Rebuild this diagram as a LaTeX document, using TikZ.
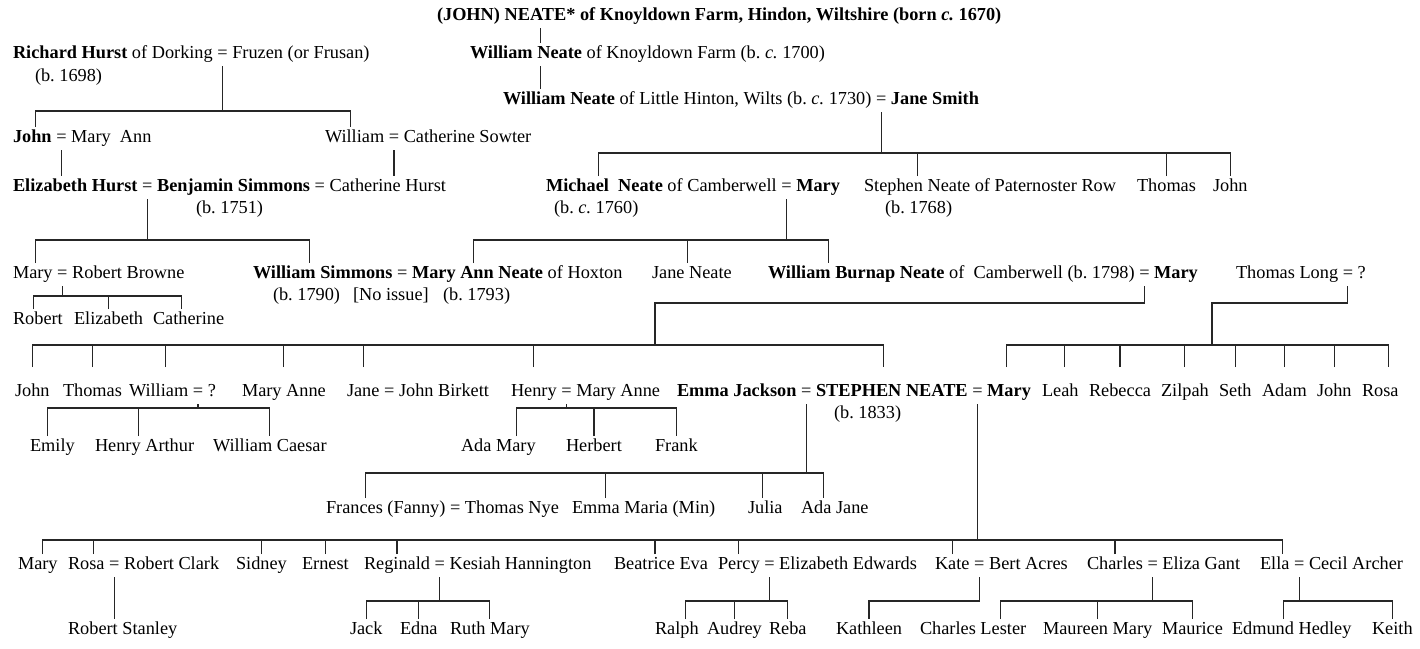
\documentclass[tikz,border=0pt]{standalone}
\usepackage{fontspec}
\setmainfont{Liberation Serif}
\newcommand\tfont{\fontsize{18.3}{22}\selectfont}
\newcommand\kid[3][0pt]{\draw[ln] ([xshift=#1]#2.north) -- ([xshift=#1]#2.north |- #3);}
\tikzset{
  t/.style={inner sep=0pt, outer sep=0pt, anchor=base west, text height=15pt, text depth=8pt, font=\tfont},
  tt/.style={t, text height=29pt},
  nx/.style={at={(#1.base east)}, xshift=4.6pt},
  ln/.style={line width=1.1pt, draw=black!85},
}
\begin{document}
\frenchspacing
\begin{tikzpicture}[x=1pt,y=1pt]
\fill[white] (0,0) rectangle (1420,-648);
\useasboundingbox (0,0) rectangle (1420,-648);
% bus levels
\coordinate (bA) at (0,-111);
\coordinate (bB) at (0,-153);
\coordinate (bC) at (0,-240);
\coordinate (bD) at (0,-296);
\coordinate (jog1) at (655,-303);
\coordinate (jog2) at (1212,-303);
\coordinate (bE) at (0,-345);
\coordinate (bF) at (0,-408);
\coordinate (bG) at (0,-473);
\coordinate (bH) at (0,-540);
\coordinate (bI) at (0,-601);
% Row 1
\node[t] (j1) at (437,-20) {\bfseries (JOHN) NEATE*};
\node[t,nx=j1] (j2) {\bfseries of Knoyldown Farm, Hindon, Wiltshire (born \textit{c.} 1670)};
% Row 2
\node[t] (rh1) at (13,-58) {\bfseries Richard Hurst};
\node[t,nx=rh1] (rh2) {of Dorking};
\node[t,nx=rh2] (rheq) {=};
\node[t,nx=rheq] (rh3) {Fruzen (or Frusan)};
\node[t] (rhb) at (35,-81) {(b. 1698)};
\node[t] (wk1) at (470,-58) {\bfseries William};
\node[t,nx=wk1] (wk2) {\bfseries Neate};
\node[t,nx=wk2] (wk3) {of Knoyldown Farm (b. \textit{c.} 1700)};
% Row 3
\node[t] (lh1) at (503,-104) {\bfseries William Neate};
\node[t,nx=lh1] (lh2) {of Little Hinton, Wilts (b. \textit{c.} 1730)};
\node[t,nx=lh2] (lheq) {=};
\node[t,nx=lheq] (lh3) {\bfseries Jane Smith};
% Row 4
\node[t] (hj) at (13,-142) {\bfseries John};
\node[t,nx=hj] (hjeq) {=};
\node[t,nx=hjeq] (hj2) {Mary\ \ Ann};
\node[t] (hw) at (325,-142) {William};
\node[t,nx=hw] (hweq) {=};
\node[t,nx=hweq] (hw2) {Catherine Sowter};
% Row 5
\node[t] (el) at (13,-191) {\bfseries Elizabeth Hurst};
\node[t,nx=el] (eleq) {=};
\node[t,nx=eleq] (bs) {\bfseries Benjamin Simmons};
\node[t,nx=bs] (bseq) {=};
\node[t,nx=bseq] (ch) {Catherine Hurst};
\node[t] (bsb) at (196,-213) {(b. 1751)};
\node[t] (mn) at (546,-191) {\bfseries Michael\ \ Neate};
\node[t,nx=mn] (mn2) {of Camberwell};
\node[t,nx=mn2] (mneq) {=};
\node[t,nx=mneq] (mn3) {\bfseries Mary};
\node[t] (mnb) at (554,-213) {(b. \textit{c.} 1760)};
\node[t] (sn) at (864,-191) {Stephen Neate};
\node[t,nx=sn] (sn2) {of Paternoster Row};
\node[t] (snb) at (885,-213) {(b. 1768)};
\node[t] (th) at (1137,-191) {Thomas};
\node[t] (jo) at (1213,-191) {John};
% Row 6
\node[t] (mb) at (13,-278) {Mary};
\node[t,nx=mb] (mbeq) {=};
\node[t,nx=mbeq] (mb2) {Robert Browne};
\node[t] (ws) at (253,-278) {\bfseries William Simmons};
\node[t,nx=ws] (wseq) {=};
\node[t,nx=wseq] (ma) {\bfseries Mary Ann Neate};
\node[t,nx=ma] (ma2) {of Hoxton};
\node[t] (jn) at (652,-278) {Jane Neate};
\node[t] (wb) at (768,-278) {\bfseries William Burnap Neate};
\node[t,nx=wb] (wb2) {of\ \ Camberwell (b. 1798)};
\node[t,nx=wb2] (wbeq) {=};
\node[t,nx=wbeq] (wb3) {\bfseries Mary};
\node[t] (tl) at (1236,-278) {Thomas Long};
\node[t,nx=tl] (tleq) {=};
\node[t,nx=tleq] (tl2) {?};
\node[t] (wsb) at (273,-300) {(b. 1790)};
\node[t] (noi) at (353,-300) {[No issue]};
\node[t] (mab) at (443,-300) {(b. 1793)};
% Row 7
\node[t] (rb) at (13,-324) {Robert};
\node[t] (eb) at (74,-324) {Elizabeth};
\node[t] (cb) at (153,-324) {Catherine};
% Row 8
\node[tt] (k1) at (15,-396) {John};
\node[tt] (k2) at (63,-396) {Thomas};
\node[tt] (k3) at (129,-396) {William};
\node[t,nx=k3] (k3eq) {=};
\node[t,nx=k3eq] (k3b) {?};
\node[tt] (k4) at (242,-396) {Mary Anne};
\node[tt] (k5) at (347,-396) {Jane};
\node[t,nx=k5] (k5eq) {=};
\node[t,nx=k5eq] (k5b) {John Birkett};
\node[tt] (k6) at (511,-396) {Henry};
\node[t,nx=k6] (k6eq) {=};
\node[t,nx=k6eq] (k6b) {Mary Anne};
\node[t] (k7) at (677,-396) {\bfseries Emma Jackson};
\node[t,nx=k7] (k7eq) {=};
\node[tt,nx=k7eq] (k7b) {\bfseries STEPHEN NEATE};
\node[t,nx=k7b] (k7eq2) {=};
\node[tt,nx=k7eq2] (k7c) {\bfseries Mary};
\node[t] (k7d) at (834,-418) {(b. 1833)};
\node[tt] (l1) at (1042,-396) {Leah};
\node[tt] (l2) at (1089,-396) {Rebecca};
\node[tt] (l3) at (1161,-396) {Zilpah};
\node[tt] (l4) at (1219,-396) {Seth};
\node[tt] (l5) at (1262,-396) {Adam};
\node[tt] (l6) at (1317,-396) {John};
\node[tt] (l7) at (1362,-396) {Rosa};
% Row 9
\node[t] (e1) at (30,-451) {Emily};
\node[t] (e2) at (95,-451) {Henry Arthur};
\node[t] (e3) at (213,-451) {William Caesar};
\node[t] (h1) at (461,-451) {Ada Mary};
\node[t] (h2) at (566,-451) {Herbert};
\node[t] (h3) at (655,-451) {Frank};
% Row 10
\node[t] (fr) at (326,-513) {Frances (Fanny)};
\node[t,nx=fr] (freq) {=};
\node[t,nx=freq] (fr2) {Thomas Nye};
\node[t] (em) at (572,-513) {Emma Maria (Min)};
\node[t] (ju) at (748,-513) {Julia};
\node[t] (aj) at (801,-513) {Ada Jane};
% Row 11
\node[t] (s1) at (18,-569) {Mary};
\node[t] (s2) at (68,-569) {Rosa};
\node[t,nx=s2] (s2eq) {=};
\node[t,nx=s2eq] (s2b) {Robert Clark};
\node[t] (s3) at (236,-569) {Sidney};
\node[t] (s4) at (302,-569) {Ernest};
\node[t] (s5) at (364,-569) {Reginald};
\node[t,nx=s5] (s5eq) {=};
\node[t,nx=s5eq] (s5b) {Kesiah Hannington};
\node[t] (s6) at (614,-569) {Beatrice Eva};
\node[t] (s7) at (718,-569) {Percy};
\node[t,nx=s7] (s7eq) {=};
\node[t,nx=s7eq] (s7b) {Elizabeth Edwards};
\node[t] (s8) at (935,-569) {Kate};
\node[t,nx=s8] (s8eq) {=};
\node[t,nx=s8eq] (s8b) {Bert Acres};
\node[t] (s9) at (1087,-569) {Charles};
\node[t,nx=s9] (s9eq) {=};
\node[t,nx=s9eq] (s9b) {Eliza Gant};
\node[t] (s10) at (1260,-569) {Ella};
\node[t,nx=s10] (s10eq) {=};
\node[t,nx=s10eq] (s10b) {Cecil Archer};
% Row 12
\node[t] (rs) at (68,-634) {Robert Stanley};
\node[t] (g1) at (350,-634) {Jack};
\node[t] (g2) at (400,-634) {Edna};
\node[t] (g3) at (450,-634) {Ruth Mary};
\node[t] (p1) at (655,-634) {Ralph};
\node[t] (p2) at (707,-634) {Audrey};
\node[t] (p3) at (769,-634) {Reba};
\node[t] (kt) at (836,-634) {Kathleen};
\node[t] (c1) at (920,-634) {Charles Lester};
\node[t] (c2) at (1043,-634) {Maureen Mary};
\node[t] (c3) at (1162,-634) {Maurice};
\node[t] (d1) at (1232,-634) {Edmund Hedley};
\node[t] (d2) at (1372,-634) {Keith};
% ---- connectors ----
\draw[ln] ([xshift=3pt]wk2.north west) -- ([xshift=3pt]wk2.north west |- j1.south);
\draw[ln] ([xshift=3pt]wk2.south west) -- ([xshift=3pt]wk2.south west |- lh1.north);
% Hurst
\draw[ln] (rheq.south) -- (rheq.south |- bA);
\draw[ln] ([xshift=3pt]hj.north) -- ([xshift=3pt]hj.north |- bA) -- ([xshift=-4pt]hw.north |- bA) -- ([xshift=-4pt]hw.north);
\draw[ln] (hjeq.south) -- (hjeq.south |- el.north);
\draw[ln] (hweq.south) -- (hweq.south |- ch.north);
% Little Hinton kids
\draw[ln] (lheq.south) -- (lheq.south |- bB);
\draw[ln] ([xshift=-6pt]mn.north) -- ([xshift=-6pt]mn.north |- bB) -- (jo.north |- bB) -- (jo.north);
\kid{sn}{bB}
\kid{th}{bB}
% Simmons kids
\draw[ln] (eleq.south) -- (eleq.south |- bC);
\draw[ln] ([xshift=3pt]mb.north) -- ([xshift=3pt]mb.north |- bC) -- ([xshift=-13pt]ws.north |- bC) -- ([xshift=-13pt]ws.north);
% Michael kids
\draw[ln] (mneq.south) -- (mneq.south |- bC);
\draw[ln] ([xshift=-4pt]ma.north) -- ([xshift=-4pt]ma.north |- bC) -- ([xshift=-28pt]wb.north |- bC) -- ([xshift=-28pt]wb.north);
\kid[-4pt]{jn}{bC}
% Browne kids
\draw[ln] (mbeq.south) -- (mbeq.south |- bD);
\draw[ln] ([xshift=-4pt]rb.north) -- ([xshift=-4pt]rb.north |- bD) -- ([xshift=-7pt]cb.north |- bD) -- ([xshift=-7pt]cb.north);
\kid{eb}{bD}
% Burnap kids
\draw[ln] (wbeq.south) |- (jog1) -- (jog1 |- bE);
\draw[ln] (k1.north) -- (k1.north |- bE) -- ([xshift=-8pt]k7b.north |- bE) -- ([xshift=-8pt]k7b.north);
\kid{k2}{bE}
\kid[7pt]{k3}{bE}
\kid{k4}{bE}
\kid{k5}{bE}
\kid{k6}{bE}
% Long kids
\draw[ln] (tleq.south) |- (jog2) -- (jog2 |- bE);
\draw[ln] ([xshift=-3pt]k7c.north) -- ([xshift=-3pt]k7c.north |- bE) -- ([xshift=8pt]l7.north |- bE) -- ([xshift=8pt]l7.north);
\kid[4pt]{l1}{bE}
\kid{l2}{bE}
\kid{l3}{bE}
\kid{l4}{bE}
\kid{l5}{bE}
\kid{l6}{bE}
% William = ? kids
\draw[ln] (k3eq.south) -- (k3eq.south |- bF);
\draw[ln] ([xshift=-5pt]e1.north) -- ([xshift=-5pt]e1.north |- bF) -- (e3.north |- bF) -- (e3.north);
\kid[-6pt]{e2}{bF}
% Henry kids
\draw[ln] (k6eq.south) -- (k6eq.south |- bF);
\draw[ln] ([xshift=18pt]h1.north) -- ([xshift=18pt]h1.north |- bF) -- (h3.north |- bF) -- (h3.north);
\kid{h2}{bF}
% Emma Jackson kids
\draw[ln] (k7eq.south) -- (k7eq.south |- bG);
\draw[ln] ([xshift=-20pt]fr.north) -- ([xshift=-20pt]fr.north |- bG) -- ([xshift=-11pt]aj.north |- bG) -- ([xshift=-11pt]aj.north);
\kid[-38pt]{em}{bG}
\kid[-3pt]{ju}{bG}
% Stephen = Mary kids
\draw[ln] (k7eq2.south) -- (k7eq2.south |- bH);
\draw[ln] ([xshift=5pt]s1.north) -- ([xshift=5pt]s1.north |- bH) -- ([xshift=8pt]s10.north |- bH) -- ([xshift=8pt]s10.north);
\kid[7pt]{s2}{bH}
\kid{s3}{bH}
\kid{s4}{bH}
\kid{s5}{bH}
\kid[-6pt]{s6}{bH}
\kid{s7}{bH}
\kid{s8}{bH}
\kid{s9}{bH}
% grandchildren
\draw[ln] (s2eq.south) -- (s2eq.south |- rs.north);
\draw[ln] (s5eq.south) -- (s5eq.south |- bI);
\draw[ln] (g1.north) -- (g1.north |- bI) -- (g3.north |- bI) -- (g3.north);
\kid{g2}{bI}
\draw[ln] (s7eq.south) -- (s7eq.south |- bI);
\draw[ln] ([xshift=9pt]p1.north) -- ([xshift=9pt]p1.north |- bI) -- (p3.north |- bI) -- (p3.north);
\kid{p2}{bI}
\draw[ln] (s8eq.south) |- (kt.north |- bI) -- (kt.north);
\draw[ln] (s9eq.south) -- (s9eq.south |- bI);
\draw[ln] ([xshift=27pt]c1.north) -- ([xshift=27pt]c1.north |- bI) -- (c3.north |- bI) -- (c3.north);
\kid{c2}{bI}
\draw[ln] (s10eq.south) -- (s10eq.south |- bI);
\draw[ln] ([xshift=-8pt]d1.north) -- ([xshift=-8pt]d1.north |- bI) -- (d2.north |- bI) -- (d2.north);
\end{tikzpicture}
\end{document}
